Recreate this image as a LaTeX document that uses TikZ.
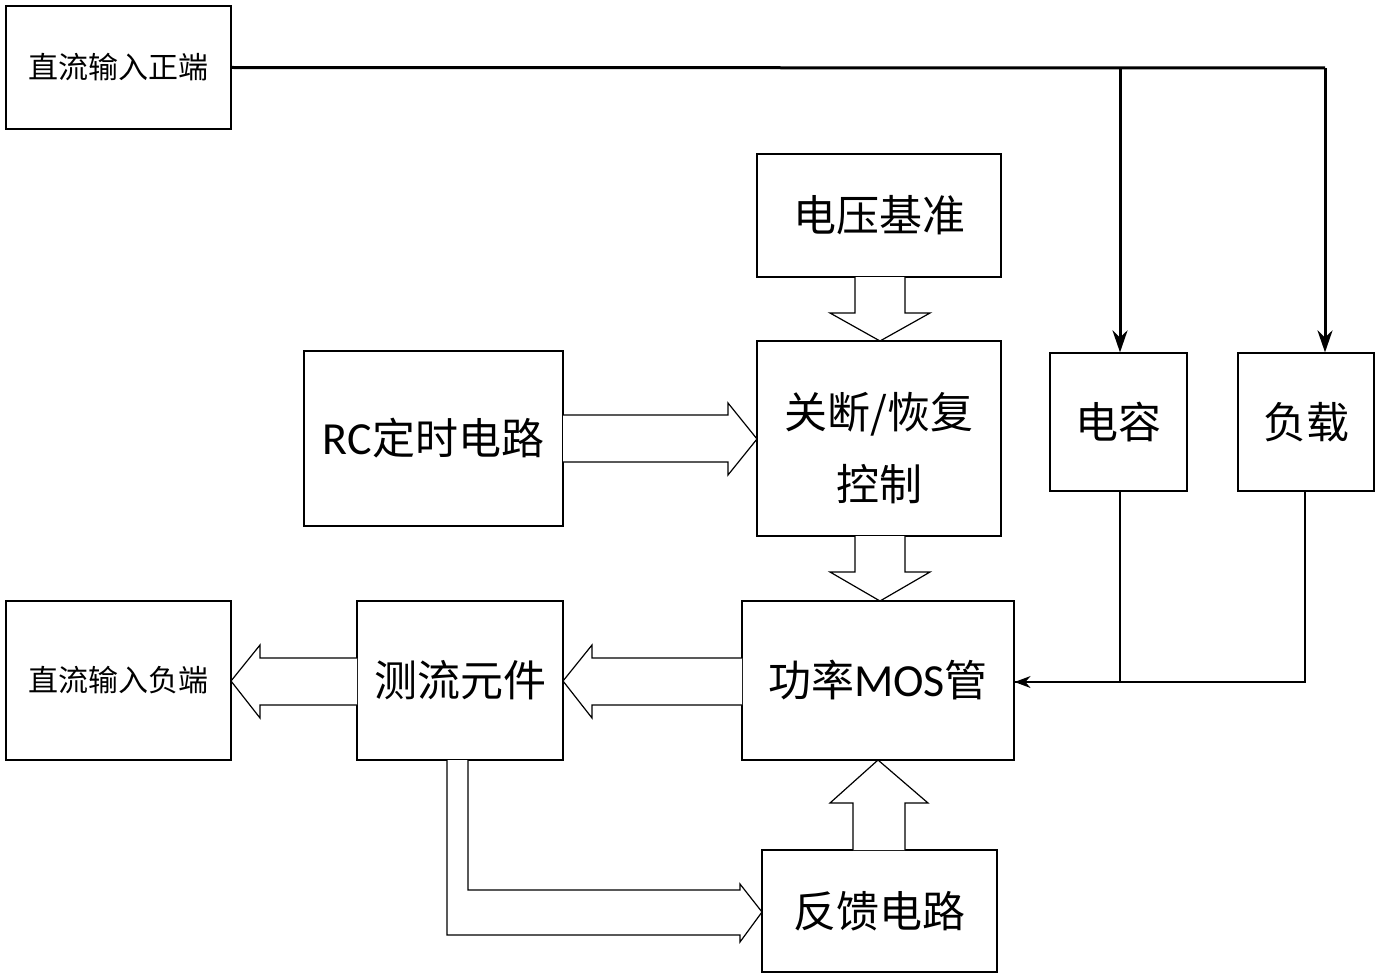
\documentclass[tikz,border=0pt]{standalone}
\usepackage{fontspec}
\newfontfamily\cjk{Noto Sans CJK SC}
\newfontfamily\lat{Carlito}
\usetikzlibrary{arrows.meta}
\begin{document}
\begin{tikzpicture}[x=1pt,y=-1pt,
 box/.style={draw,line width=1.2pt,inner sep=0pt},
 big/.style={font=\cjk\fontsize{43}{54}\selectfont},
 small/.style={font=\cjk\fontsize{30}{36}\selectfont},
 hollow/.style={draw,fill=white,line width=1.2pt,line join=miter},
 thick/.style={line width=3pt,-{Stealth[length=22pt,width=15pt]}},
 thin/.style={line width=1.2pt}]
\useasboundingbox (0,0) rectangle (1380,979);
\node[box,small,minimum width=225pt,minimum height=123pt] (pos) at (118.5,67.5) {直流输入正端};
\node[box,big,minimum width=244pt,minimum height=123pt] (vref) at (879,215.5) {电压基准};
\node[box,big,minimum width=259pt,minimum height=175pt] (rc) at (433.5,438.5) {{\lat\fontsize{46}{54}\selectfont RC}定时电路};
\node[box,minimum width=244pt,minimum height=195pt] (ctl) at (879,438.5) {};
\node[big,align=center,inner sep=0pt] (ctltext) at (879,448) {关断/恢复\\[18pt]控制};
\node[box,big,minimum width=137pt,minimum height=138pt] (cap) at (1118.5,422) {电容};
\node[box,big,minimum width=136pt,minimum height=138pt] (load) at (1306,422) {负载};
\node[box,small,minimum width=225pt,minimum height=159pt] (neg) at (118.5,680.5) {直流输入负端};
\node[box,big,minimum width=206pt,minimum height=159pt] (sense) at (460,680.5) {测流元件};
\node[box,big,minimum width=272pt,minimum height=159pt] (mos) at (878,680.5) {功率{\lat\fontsize{46}{54}\selectfont MOS}管};
\node[box,big,minimum width=235pt,minimum height=122pt] (fb) at (879.5,911) {反馈电路};
% thick supply lines
\coordinate (j1) at (1120,68);
\coordinate (j2) at (1325,68);
\draw[line width=3pt] (pos.east) -- (j2);
\draw[thick] (j1) -- (j1 |- cap.north);
\draw[thick] (j2) -- (j2 |- load.north);
% thin return lines
\coordinate (k1) at (1120,682);
\coordinate (k2) at (1305,682);
\draw[thin] (1120,491) -- (k1);
\draw[thin] (1305,491) -- (k2) -- (mos.east |- k2);
\draw[thin,-{Stealth[length=16pt,width=12pt]}] (k1) -- (mos.east |- k1);
% hollow arrows
\draw[hollow] (855,277) -- (855,313) -- (830,313) -- (880,341) -- (930,313) -- (905,313) -- (905,277);
\draw[hollow] (563,415) -- (728,415) -- (728,403) -- (757,439) -- (728,475) -- (728,462) -- (563,462);
\draw[hollow] (855,536) -- (855,572) -- (830,572) -- (880,601) -- (930,572) -- (905,572) -- (905,536);
\draw[hollow] (742,658) -- (592,658) -- (592,645) -- (563,681) -- (592,718) -- (592,705) -- (742,705);
\draw[hollow] (357,658) -- (260,658) -- (260,645) -- (231,681) -- (260,718) -- (260,705) -- (357,705);
\draw[hollow] (853,850) -- (853,803) -- (830,803) -- (878,760) -- (928,803) -- (905,803) -- (905,850);
\draw[hollow] (447,760) -- (447,935) -- (740,935) -- (740,942) -- (762,912) -- (740,884) -- (740,890) -- (468,890) -- (468,760);
\end{tikzpicture}
\end{document}
